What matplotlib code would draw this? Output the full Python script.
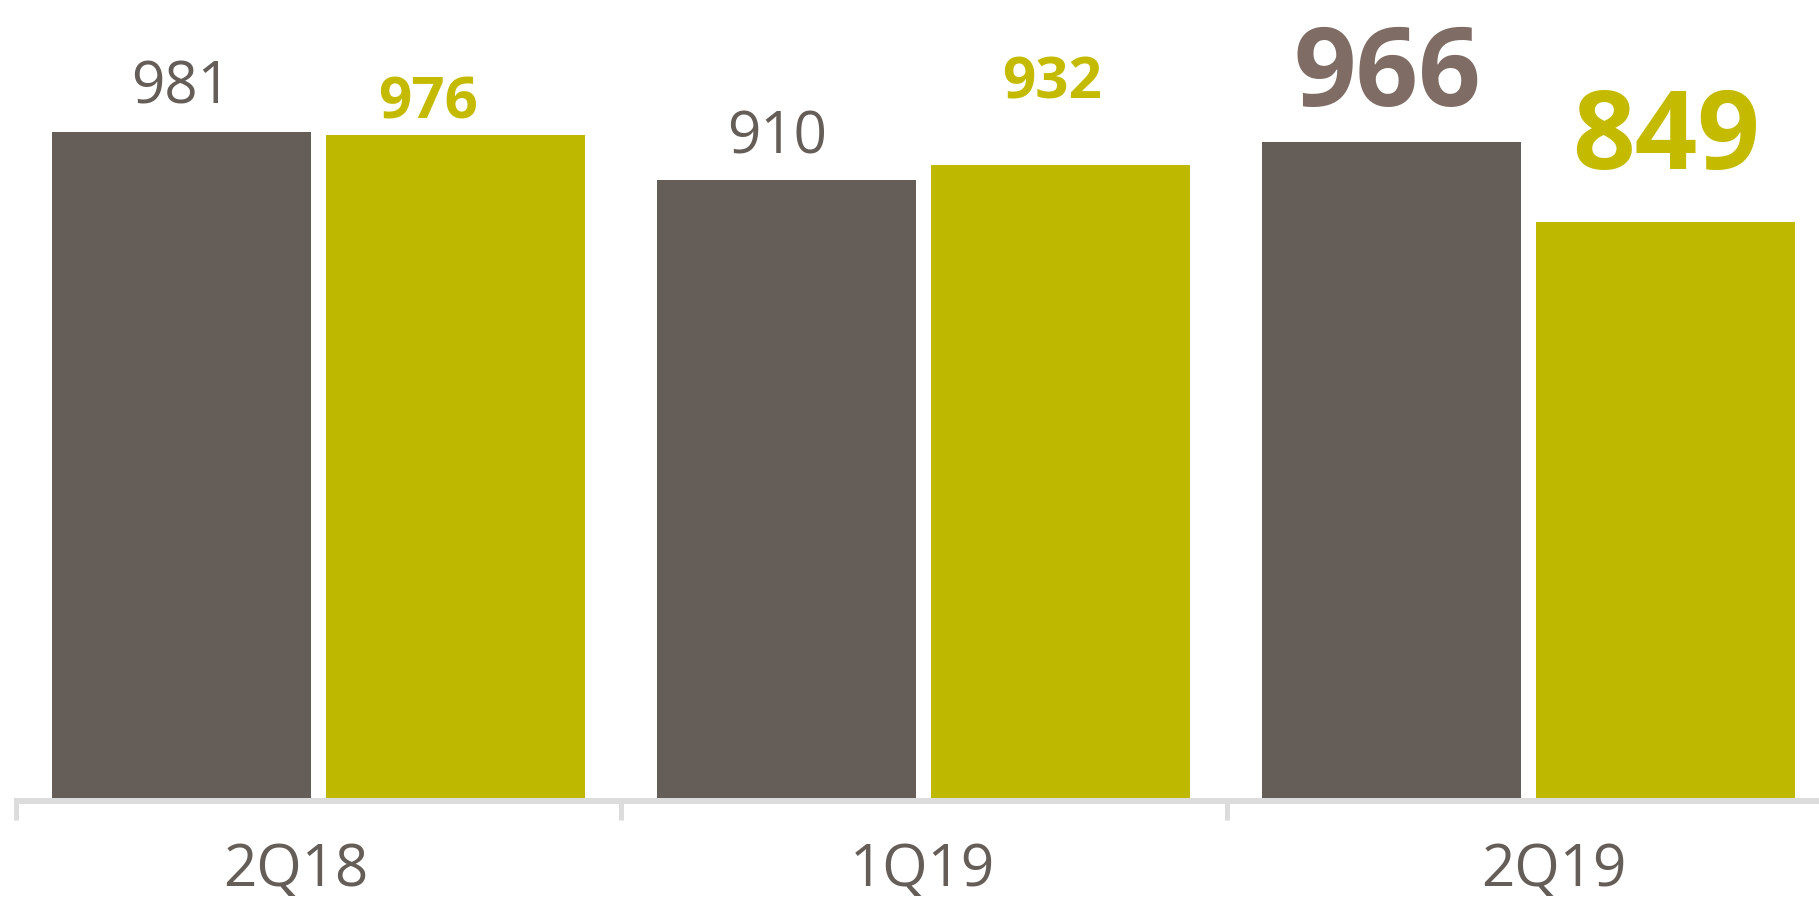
import numpy as np
import matplotlib
matplotlib.use('Agg')
import matplotlib.pyplot as plt
from matplotlib.patches import Polygon

# data
quarters = ['2Q18', '1Q19', '2Q19']
series_a = [981, 910, 966]   # dark grey bars
series_b = [976, 932, 849]   # olive bars

grey = '#655d57'
olive = '#bfb800'

plt.rcParams['font.family'] = ['Open Sans', 'DejaVu Sans']

fig = plt.figure(figsize=(18.19, 8.99), dpi=100)
ax = fig.add_axes([0, 0, 1, 1])

x = np.arange(len(quarters))
w = 0.428
bars_a = ax.bar(x - 0.227, series_a, w, color=grey)
bars_b = ax.bar(x + 0.226, series_b, w, color=olive)

# label styles: (size, weight, colour, x shift px, gap above bar px)
style_a = [(42, 'normal', '#655d57', 0, 28), (42, 'normal', '#655d57', -10, 27), (79, 'bold', '#7f6d65', -4, 36)]
style_b = [(42, 'bold', '#c4bb00', -28, 17), (42, 'bold', '#c4bb00', -9, 67), (79, 'bold', '#c4bb00', 0, 53)]

for bars, vals, st in [(bars_a, series_a, style_a), (bars_b, series_b, style_b)]:
    for b, v, (fs, fw, c, dx, gap) in zip(bars, vals, st):
        ax.annotate(str(v), (b.get_x() + b.get_width() / 2, v),
                    xytext=(dx, gap), textcoords='offset pixels',
                    ha='center', va='baseline', fontsize=fs, fontweight=fw, color=c)

for s in ['top', 'right', 'left']:
    ax.spines[s].set_visible(False)
ax.spines['bottom'].set_position(('data', -4.4))
ax.spines['bottom'].set_color('#dcdcdc')
ax.spines['bottom'].set_linewidth(4.3)
ax.spines['bottom'].set_bounds(-0.504, 3)
ax.spines['bottom'].set_capstyle('butt')

ax.set_yticks([])
ax.set_xticks([-0.5, 0.5, 1.5, 2.5])
ax.set_xticklabels([])
ax.tick_params(axis='x', which='major', direction='out', length=13.7, width=3.6, color='#dcdcdc')
ax.set_xticks(x + np.array([-0.038, -0.003, 0.04]), minor=True)
ax.set_xticklabels(quarters, minor=True)
ax.tick_params(axis='x', which='minor', length=0, pad=29, labelsize=42, labelcolor=grey)

# limits after ticks (set_xticks widens the view)
ax.set_xlim(-0.527, 2.479)
ax.set_ylim(-148.7, 1175.3)

# faint decoration in the bottom-right corner
fig.patches.append(Polygon([(1715 / 1819, 1 - 820 / 899), (1790 / 1819, 1 - 820 / 899),
                            (1, 1 - 850 / 899), (1, 0), (1805 / 1819, 0)],
                           closed=True, transform=fig.transFigure, facecolor='#f6f6f6',
                           edgecolor='none', zorder=-1))

fig.savefig('out.png', dpi=100)
